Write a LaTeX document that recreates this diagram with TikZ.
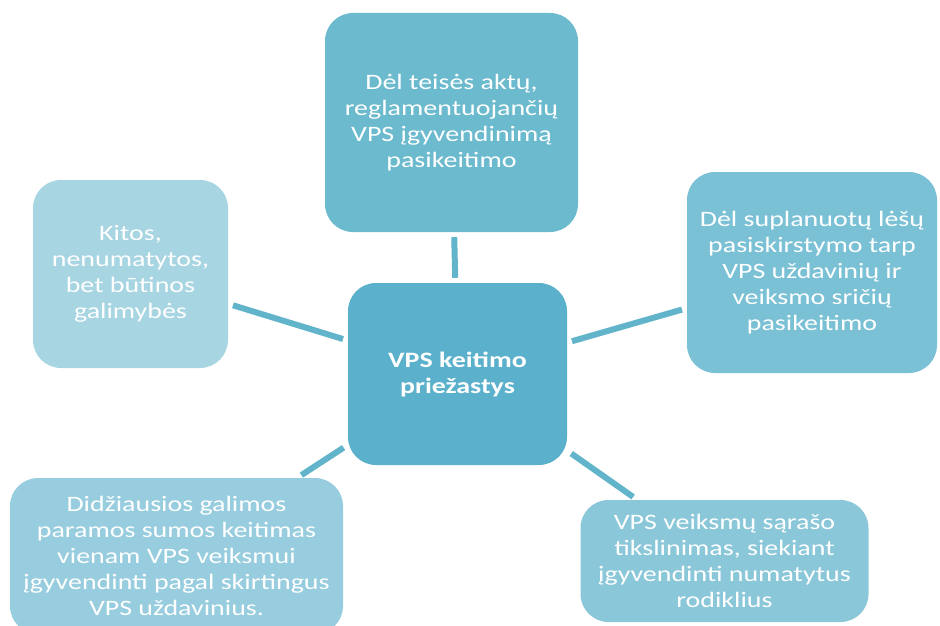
\documentclass[tikz,border=0pt]{standalone}
\usepackage{fontspec}
\setmainfont{Carlito}[FakeStretch=1.27]

\definecolor{hubblue}{HTML}{5BB1CB}
\definecolor{topblue}{HTML}{6BBACE}
\definecolor{rightblue}{HTML}{7AC1D5}
\definecolor{leftblue}{HTML}{A7D5E2}
\definecolor{lowleftblue}{HTML}{97CDDE}
\definecolor{lowrightblue}{HTML}{8AC7D9}
\definecolor{linkblue}{HTML}{62B4CA}

\begin{document}
\begin{tikzpicture}[x=1pt, y=-1pt,
    cause/.style={rounded corners=28pt, text=white, align=center, inner sep=0pt,
        font=\fontsize{22}{26}\selectfont},
    link/.style={line width=6pt, linkblue, shorten <=5pt, shorten >=5pt}]
    % Page frame
    \clip (0,0) rectangle (940,626);

    % Central node
    \node[cause, fill=hubblue, minimum width=219pt, minimum height=182pt,
        font=\fontsize{22}{26}\selectfont\bfseries] (hub) at (457.5,374)
        {VPS keitimo\\priežastys};

    % Reasons around it
    \node[cause, fill=topblue, minimum width=253pt, minimum height=219pt] (acts) at (451.5,122.5)
        {Dėl teisės aktų,\\reglamentuojančių\\VPS įgyvendinimą\\pasikeitimo};
    \node[cause, fill=rightblue, minimum width=250pt, minimum height=201pt] (funds) at (812,272.5)
        {Dėl suplanuotų lėšų\\pasiskirstymo tarp\\VPS uždavinių ir\\veiksmo sričių\\pasikeitimo};
    \node[cause, fill=leftblue, minimum width=195pt, minimum height=188pt] (other) at (130.5,274)
        {Kitos,\\nenumatytos,\\bet būtinos\\galimybės};
    \node[cause, fill=lowleftblue, minimum width=333pt, minimum height=156pt] (amount) at (176.5,556)
        {Didžiausios galimos\\paramos sumos keitimas\\vienam VPS veiksmui\\įgyvendinti pagal skirtingus\\VPS uždavinius.};
    \node[cause, fill=lowrightblue, minimum width=288pt, minimum height=122pt] (list) at (724.5,561)
        {VPS veiksmų sąrašo\\tikslinimas, siekiant\\įgyvendinti numatytus\\rodiklius};

    % Links from the hub
    \foreach \target in {acts, funds, other, amount, list} {
        \draw[link] (hub) -- (\target);
    }
\end{tikzpicture}
\end{document}
